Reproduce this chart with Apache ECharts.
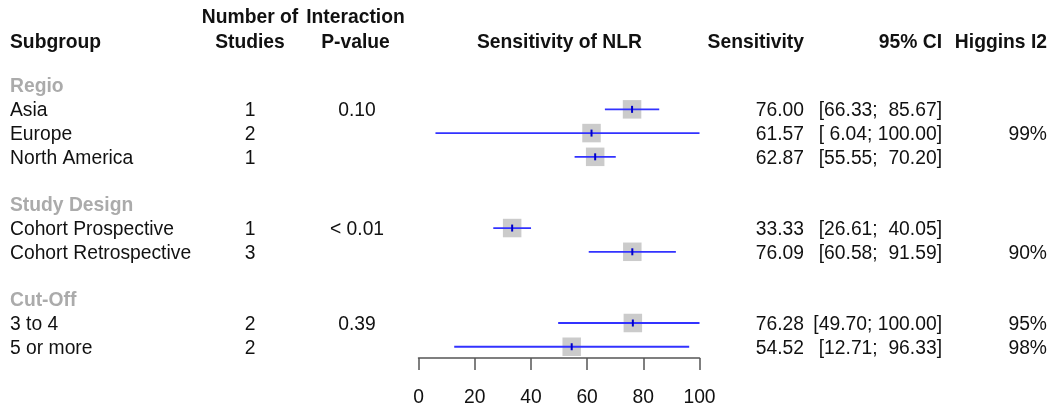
<!DOCTYPE html>
<html>
<head>
<meta charset="utf-8">
<script src="https://cdn.jsdelivr.net/npm/echarts@6/dist/echarts.min.js"></script>
<style>
  html, body { margin: 0; padding: 0; background: #fff; }
  #chart { width: 1055px; height: 410px; }
</style>
</head>
<body>
<div id="chart"></div>
<script>
const groupNames = ["Regio", "Study Design", "Cut-Off"];
const groupPValues = ["0.10", "< 0.01", "0.39"];
const subgroups = ["Asia", "Europe", "North America", "Cohort Prospective", "Cohort Retrospective", "3 to 4", "5 or more"];
const subgroupGroup = [0, 0, 0, 1, 1, 2, 2];
const studies = [1, 2, 1, 1, 3, 2, 2];
const sensitivity = [76.0, 61.57, 62.87, 33.33, 76.09, 76.28, 54.52];
const ciLower = [66.33, 6.04, 55.55, 26.61, 60.58, 49.7, 12.71];
const ciUpper = [85.67, 100.0, 70.2, 40.05, 91.59, 100.0, 96.33];
const higginsI2 = [null, 99, null, null, 90, 95, 98];
const xTicks = [0, 20, 40, 60, 80, 100];

const FONT = '"Liberation Sans", Arial, sans-serif';
const SIZE = "19.3px ";
const TEXT = "#111";
const GROUP_GREY = "#ababab";
const TEXT_DY = 1.5; // canvas "middle" sits a bit high vs R text

// lay out rows: group header, its subgroups, then a blank row
const rows = [];
const subgroupRow = [];
let k = 0;
groupNames.forEach((g, gi) => {
  rows.push({ k: k, group: gi, idx: -1 });
  k++;
  let first = true;
  subgroups.forEach((s, i) => {
    if (subgroupGroup[i] !== gi) return;
    rows.push({ k: k, group: gi, idx: i, first: first });
    subgroupRow[i] = k;
    first = false;
    k++;
  });
  k++;
});

function pad(str, n) {
  while (str.length < n) str = " " + str;
  return str;
}
function ciText(i) {
  return "[" + pad(ciLower[i].toFixed(2), 5) + "; " + pad(ciUpper[i].toFixed(2), 6) + "]";
}

const chart = echarts.init(document.getElementById("chart"));

function txt(text, x, y, align, opts) {
  return {
    type: "text",
    x: x,
    y: y + TEXT_DY,
    style: Object.assign({
      text: text,
      font: SIZE + FONT,
      fill: TEXT,
      align: align,
      verticalAlign: "middle",
    }, opts || {}),
  };
}
const BOLD = { font: "bold " + SIZE + FONT };

const option = {
  animation: false,
  grid: { left: 418.5, right: 355.5, top: 0, bottom: 52 },
  xAxis: {
    type: "value",
    min: 0,
    max: 100,
    interval: 20,
    splitLine: { show: false },
    axisLine: { show: true, onZero: false, lineStyle: { color: "#555", width: 1.5 } },
    axisTick: { show: true, length: 12, lineStyle: { color: "#555", width: 1.5 } },
    axisLabel: {
      margin: 30,
      fontSize: 19.3,
      fontFamily: FONT,
      color: TEXT,
      customValues: xTicks,
    },
  },
  yAxis: {
    type: "value",
    inverse: true,
    min: -3.606,
    max: 11.474,
    show: false,
    splitLine: { show: false },
  },
  graphic: [
    txt("Subgroup", 10, 41, "left", BOLD),
    txt("Number of", 250, 16, "center", BOLD),
    txt("Studies", 250, 41, "center", BOLD),
    txt("Interaction", 355.5, 16, "center", BOLD),
    txt("P-value", 355.5, 41, "center", BOLD),
    txt("Sensitivity of NLR", 559.5, 41, "center", BOLD),
    txt("Sensitivity", 804, 41, "right", BOLD),
    txt("95% CI", 942, 41, "right", BOLD),
    txt("Higgins I2", 1047, 41, "right", BOLD),
  ],
  series: [
    {
      type: "scatter",
      symbol: "rect",
      symbolSize: 18.5,
      itemStyle: { color: "#bebebe" },
      emphasis: { disabled: true },
      z: 2,
      data: sensitivity.map((v, i) => [v, subgroupRow[i]]),
    },
    {
      type: "custom",
      z: 3,
      clip: false,
      data: sensitivity.map((v, i) => [ciLower[i], ciUpper[i], v, subgroupRow[i]]),
      encode: { x: [0, 1, 2], y: 3 },
      renderItem: function (params, api) {
        const row = api.value(3);
        const lo = api.coord([api.value(0), row]);
        const hi = api.coord([api.value(1), row]);
        const c = api.coord([api.value(2), row]);
        return {
          type: "group",
          children: [
            {
              type: "line",
              shape: { x1: lo[0], y1: lo[1], x2: hi[0], y2: hi[1] },
              style: { stroke: "#3232ff", lineWidth: 1.8 },
            },
            {
              type: "line",
              shape: { x1: c[0], y1: c[1] - 3.5, x2: c[0], y2: c[1] + 3.5 },
              style: { stroke: "#0000c8", lineWidth: 2 },
            },
          ],
        };
      },
    },
    {
      type: "custom",
      z: 4,
      clip: false,
      silent: true,
      data: rows.map((r, j) => [0, r.k, j]),
      encode: { y: 1 },
      renderItem: function (params, api) {
        const r = rows[api.value(2)];
        const y = api.coord([0, r.k])[1];
        if (r.idx < 0) {
          return txt(groupNames[r.group], 10, y, "left", { font: "bold " + SIZE + FONT, fill: GROUP_GREY });
        }
        const i = r.idx;
        const items = [
          txt(subgroups[i], 10, y, "left"),
          txt(String(studies[i]), 250, y, "center"),
          txt(sensitivity[i].toFixed(2), 804, y, "right"),
          txt(ciText(i), 942, y, "right"),
        ];
        if (r.first) items.push(txt(groupPValues[r.group], 357, y, "center"));
        if (higginsI2[i] != null) items.push(txt(higginsI2[i] + "%", 1047, y, "right"));
        return { type: "group", children: items };
      },
    },
  ],
};

chart.setOption(option);
</script>
</body>
</html>
